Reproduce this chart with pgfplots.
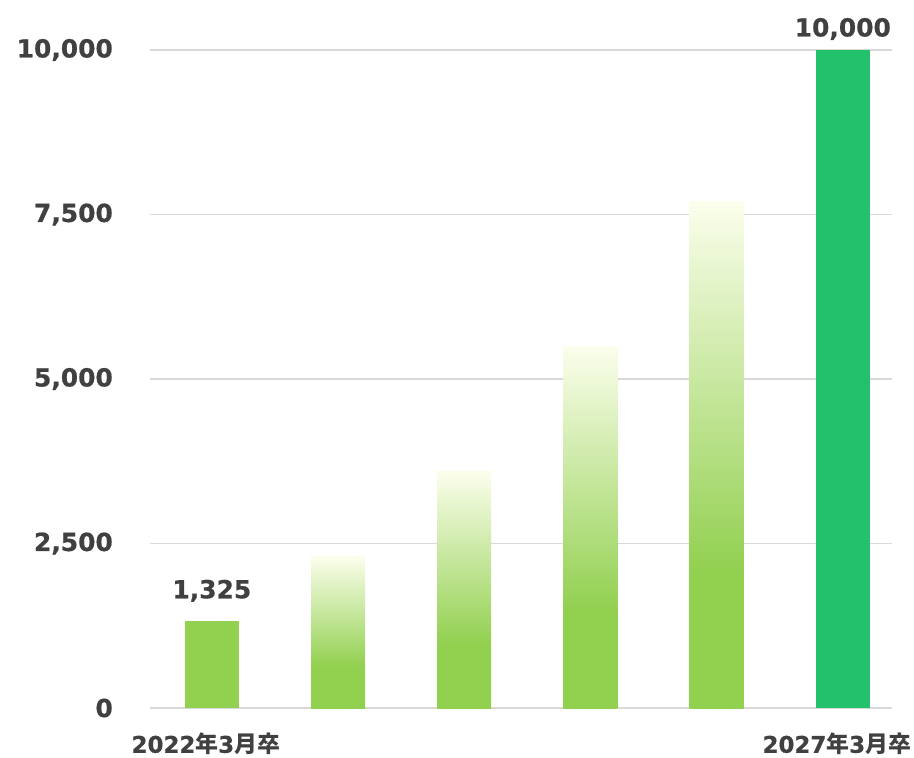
\documentclass[border=0pt]{standalone}
\usepackage{pgfplots}
\pgfplotsset{compat=1.18}
\usepackage{fontspec}
\setmainfont{DejaVu Sans}[BoldFeatures={FakeBold=0.6}]
\newfontfamily\jp{Noto Sans CJK JP Bold}
\definecolor{txt}{HTML}{404040}
\definecolor{gridc}{HTML}{D9D9D9}
\definecolor{barg}{HTML}{92D050}
\definecolor{bartop}{HTML}{FBFEEC}
\definecolor{lastg}{HTML}{22C16B}
% solid green in the lower ~27% of the bar, then fading up to near white
\pgfdeclareverticalshading{barfade}{100bp}{color(0bp)=(barg); color(25bp)=(barg); color(38.5bp)=(barg); color(75bp)=(bartop); color(100bp)=(bartop)}

\begin{document}
\begin{tikzpicture}
\path[use as bounding box] (-150bp,-50bp) rectangle (764bp,708bp);
\begin{axis}[
    scale only axis,
    width=742bp, height=658bp,
    xmin=-0.49, xmax=5.39,
    ymin=0, ymax=10000,
    clip=false,
    axis line style={draw=none},
    tick style={draw=none},
    ymajorgrids,
    major grid style={draw=gridc, line width=1.8bp},
    ytick={0,2500,5000,7500,10000},
    scaled y ticks=false,
    xtick={0,5},
    xticklabels={{2022{\jp 年}3{\jp 月卒}}, {2027{\jp 年}3{\jp 月卒}}},
    /pgf/number format/assume math mode=true,
    /pgf/number format/1000 sep={,},
    every tick label/.append style={font=\fontsize{25}{28}\selectfont\bfseries, text=txt},
    yticklabel style={inner sep=0pt, anchor=east, xshift=-37bp},
    xticklabel style={inner sep=0pt, anchor=center, yshift=-36bp, xshift=-6bp,
        font=\fontsize{23}{26}\selectfont\bfseries},
    every node near coord/.append style={font=\fontsize{25}{28}\selectfont\bfseries, text=txt, anchor=center},
]
\addplot[ybar, bar shift=0pt, bar width=54bp, draw=none, fill=barg,
    nodes near coords, every node near coord/.append style={yshift=30bp}]
    coordinates {(0,1325)};
\addplot[ybar, bar shift=0pt, bar width=54bp, draw=none, shade, shading=barfade]
    coordinates {(1,2300)};
\addplot[ybar, bar shift=0pt, bar width=54bp, draw=none, shade, shading=barfade]
    coordinates {(2,3600)};
\addplot[ybar, bar shift=0pt, bar width=54bp, draw=none, shade, shading=barfade]
    coordinates {(3,5500)};
\addplot[ybar, bar shift=0pt, bar width=54bp, draw=none, shade, shading=barfade]
    coordinates {(4,7700)};
\addplot[ybar, bar shift=0pt, bar width=54bp, draw=none, fill=lastg,
    nodes near coords, every node near coord/.append style={yshift=21bp}]
    coordinates {(5,10000)};
\end{axis}
\end{tikzpicture}
\end{document}
